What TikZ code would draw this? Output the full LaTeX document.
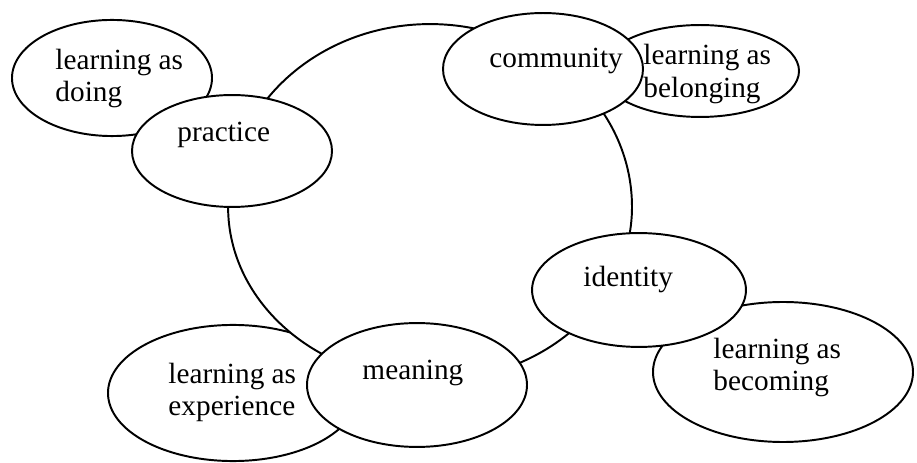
\documentclass[tikz,border=0pt]{standalone}
\usepackage{fontspec}
\setmainfont{Liberation Serif}
\usetikzlibrary{shapes.geometric}

\tikzset{
  blob/.style={ellipse,draw,fill=white,line width=0.8pt,inner sep=0pt},
  txt/.style={inner sep=0pt,align=left,font=\fontsize{12}{13.2}\selectfont},
}

\begin{document}
\begin{tikzpicture}[x=0.41pt,y=-0.41pt]
        \useasboundingbox (0,0) rectangle (917,463);
        % experience sits behind the ring
        \node[blob,minimum width=102.5pt,minimum height=55.8pt] (experience) at (233,393) {};
        % the ring
        \draw[line width=0.8pt,fill=white] (632,207)
          arc[start angle=0,end angle=180,x radius=82.8pt,y radius=75pt]
          arc[start angle=180,end angle=360,x radius=82.8pt,y radius=71.3pt];
        % outer ellipses
        \node[blob,minimum width=82pt,minimum height=47.6pt] (doing) at (112,78) {};
        \node[blob,minimum width=81.2pt,minimum height=37.7pt] (belonging) at (700,71) {};
        \node[blob,minimum width=106.6pt,minimum height=57.4pt] (becoming) at (783,372) {};
        % inner ellipses on the ring
        \node[blob,minimum width=82pt,minimum height=45.9pt] (practice) at (232,151) {};
        \node[blob,minimum width=82pt,minimum height=45.9pt] (community) at (543,69) {};
        \node[blob,minimum width=87.7pt,minimum height=46.7pt] (identity) at (639,290) {};
        \node[blob,minimum width=90.2pt,minimum height=50.8pt] (meaning) at (417,385) {};
        % labels
        \node[txt,anchor=west] (doing-t) at (55,78.5) {learning as\\doing};
        \node[txt,anchor=base west] (practice-t) at (177,142) {practice};
        \node[txt,anchor=base west] (community-t) at (489,68) {community};
        \node[txt,anchor=west] (belonging-t) at (643,74) {learning as\\belonging};
        \node[txt,anchor=base west] (identity-t) at (583,287) {identity};
        \node[txt,anchor=west] (becoming-t) at (713,367.5) {learning as\\becoming};
        \node[txt,anchor=base west] (meaning-t) at (362,380) {meaning};
        \node[txt,anchor=west] (experience-t) at (168,392.5) {learning as\\experience};
\end{tikzpicture}
\end{document}
